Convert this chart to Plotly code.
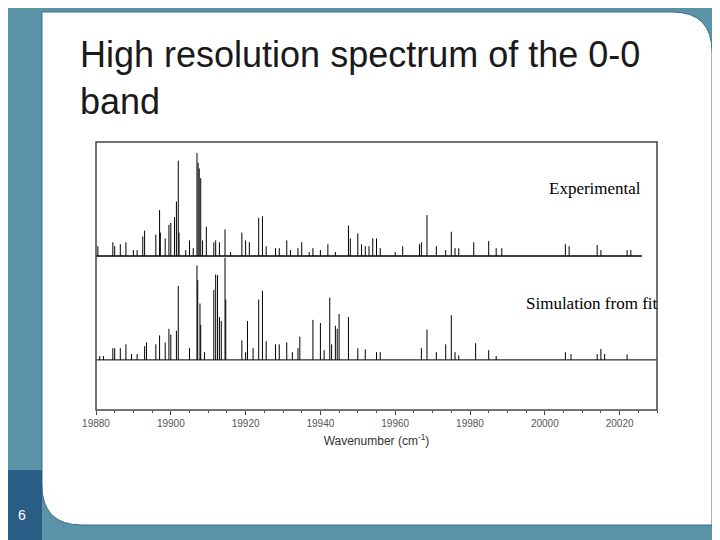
import plotly.graph_objects as go

# experimental spectrum: line positions (cm-1) and relative intensities
exp_pos = [19880.5, 19884.5, 19885, 19886.5, 19888, 19890, 19891, 19892.5, 19893, 19896,
           19897, 19897.2, 19898.5, 19899.5, 19900, 19901, 19901.5, 19902, 19902.2, 19904,
           19905, 19906, 19907, 19907.3, 19907.6, 19908, 19908.5, 19909.5, 19911.5, 19912,
           19913, 19914.5, 19916, 19919, 19920, 19921, 19923.5, 19924.5, 19925.5, 19928,
           19929, 19931, 19932, 19934, 19935, 19937, 19938, 19940, 19942, 19944,
           19947.5, 19948, 19950, 19951, 19952, 19953, 19954, 19955, 19956, 19960,
           19962, 19966.5, 19967, 19968.5, 19971, 19973.5, 19975, 19976, 19977, 19981,
           19985, 19987, 19988.5, 20005.5, 20006.5, 20014, 20015, 20022, 20023]
exp_int = [25, 35, 25, 30, 35, 15, 15, 50, 65, 55,
           118, 60, 45, 80, 85, 100, 140, 245, 60, 15,
           40, 20, 265, 240, 225, 200, 40, 75, 35, 40,
           35, 68, 10, 60, 40, 35, 98, 102, 25, 20,
           20, 40, 15, 20, 35, 10, 20, 15, 30, 10,
           78, 45, 58, 30, 25, 25, 45, 45, 20, 10,
           25, 30, 35, 105, 25, 15, 62, 20, 20, 35,
           38, 20, 20, 30, 25, 28, 15, 15, 15]

# simulated spectrum from the fit
sim_pos = [19881, 19882, 19884.5, 19885, 19886.5, 19888, 19889.5, 19891, 19893, 19893.5,
           19896, 19897, 19898.5, 19899.5, 19900, 19901.5, 19902, 19905, 19907, 19907.2,
           19907.8, 19908, 19909, 19911.5, 19912, 19912.5, 19913, 19913.5, 19914.5, 19914.7,
           19919, 19920, 19920.5, 19922, 19923.5, 19924.5, 19925.5, 19928, 19929, 19931,
           19932.5, 19934, 19934.5, 19938, 19940, 19941, 19942.5, 19943, 19944, 19944.5,
           19945, 19947.5, 19950, 19952, 19955, 19956, 19967, 19968.5, 19971, 19973.5,
           19975, 19976, 19977, 19981.5, 19985, 19987, 20005.5, 20007, 20014, 20015,
           20016, 20022]
sim_int = [10, 10, 30, 30, 30, 40, 15, 15, 35, 45,
           40, 63, 45, 80, 65, 75, 190, 30, 243, 205,
           145, 90, 20, 180, 220, 218, 110, 100, 263, 155,
           50, 20, 100, 30, 155, 178, 48, 40, 40, 45,
           20, 30, 60, 103, 95, 25, 160, 40, 88, 80,
           118, 110, 30, 27, 20, 20, 30, 78, 20, 40,
           115, 20, 12, 43, 25, 10, 20, 15, 15, 28,
           15, 14]

tick_vals = [19880, 19900, 19920, 19940, 19960, 19980, 20000, 20020]

exp_base, sim_base, scale = 0.575, 0.187, 0.00145


def sticks(pos, inten, base):
    xs, ys = [], []
    for p, h in zip(pos, inten):
        xs += [p, p, None]
        ys += [base, base + h * scale, None]
    return xs, ys


fig = go.Figure()
ex, ey = sticks(exp_pos, exp_int, exp_base)
sx, sy = sticks(sim_pos, sim_int, sim_base)
fig.add_trace(go.Scatter(x=[19880, 20026], y=[exp_base, exp_base], mode='lines',
                         line=dict(color='black', width=1.5)))
fig.add_trace(go.Scatter(x=[19880, 20030], y=[sim_base, sim_base], mode='lines',
                         line=dict(color='black', width=1)))
fig.add_trace(go.Scatter(x=ex, y=ey, mode='lines', line=dict(color='black', width=1)))
fig.add_trace(go.Scatter(x=sx, y=sy, mode='lines', line=dict(color='black', width=1)))

# page offset of the rendered figure (body margin)
OFF = 8
L, R, T, B = 96, 657, 142, 410


def px(x):
    return (x - L) / (R - L)


def py(y):
    return (B - y) / (B - T)


def panel_path():
    r = 40
    x0, x1, y0, y1 = 42, 712, 12, 525
    return (f"M {px(x0)},{py(y0)} L {px(x1 - r)},{py(y0)} "
            f"Q {px(x1)},{py(y0)} {px(x1)},{py(y0 + r)} "
            f"L {px(x1)},{py(y1)} L {px(x0 + r)},{py(y1)} "
            f"Q {px(x0)},{py(y1)} {px(x0)},{py(y1 - r)} Z")


fig.update_layout(
    width=720, height=540, showlegend=False,
    margin=dict(l=L - OFF, r=720 - R + OFF, t=T - OFF, b=540 - B + OFF),
    paper_bgcolor='#5a93a8', plot_bgcolor='white',
    shapes=[
        dict(type='path', path=panel_path(), xref='paper', yref='paper',
             fillcolor='white', line=dict(color='#3a6f86', width=1), layer='below'),
        dict(type='rect', xref='paper', yref='paper', x0=px(-10), x1=px(42), y0=py(470), y1=py(550),
             fillcolor='#2a5d86', line=dict(width=0), layer='below'),
        dict(type='rect', xref='paper', yref='paper', x0=0, x1=1, y0=0, y1=1,
             line=dict(color='#444', width=1.5)),
    ],
    annotations=[
        dict(text='High resolution spectrum of the 0-0<br>band', xref='paper', yref='paper',
             x=px(78), y=py(32), xanchor='left', yanchor='top', align='left', showarrow=False,
             font=dict(family='Liberation Sans, Arial', size=36, color='#1a1a1a')),
        dict(text='Experimental', xref='paper', yref='paper', x=px(595), y=py(188),
             xanchor='center', yanchor='middle', showarrow=False,
             font=dict(family='Liberation Serif, Times New Roman', size=17, color='black')),
        dict(text='Simulation from fit', xref='paper', yref='paper', x=px(592), y=py(303),
             xanchor='center', yanchor='middle', showarrow=False,
             font=dict(family='Liberation Serif, Times New Roman', size=17, color='black')),
        dict(text='6', xref='paper', yref='paper', x=px(22), y=py(515),
             xanchor='center', yanchor='middle', showarrow=False,
             font=dict(family='Liberation Sans, Arial', size=14, color='white')),
    ],
)
fig.update_xaxes(range=[19880, 20030], tickvals=tick_vals, ticktext=[str(v) for v in tick_vals],
                 ticks='outside', ticklen=4, tickcolor='#444',
                 minor=dict(dtick=5, ticks='outside', ticklen=2, tickcolor='#444'),
                 showgrid=False, zeroline=False,
                 tickfont=dict(family='Liberation Sans, Arial', size=10, color='#555'),
                 title=dict(text='Wavenumber (cm<sup>-1</sup>)', standoff=8,
                            font=dict(family='Liberation Sans, Arial', size=12, color='#333')))
fig.update_yaxes(range=[0, 1], showticklabels=False, showgrid=False, zeroline=False, ticks='')

fig.write_html('out.html')
